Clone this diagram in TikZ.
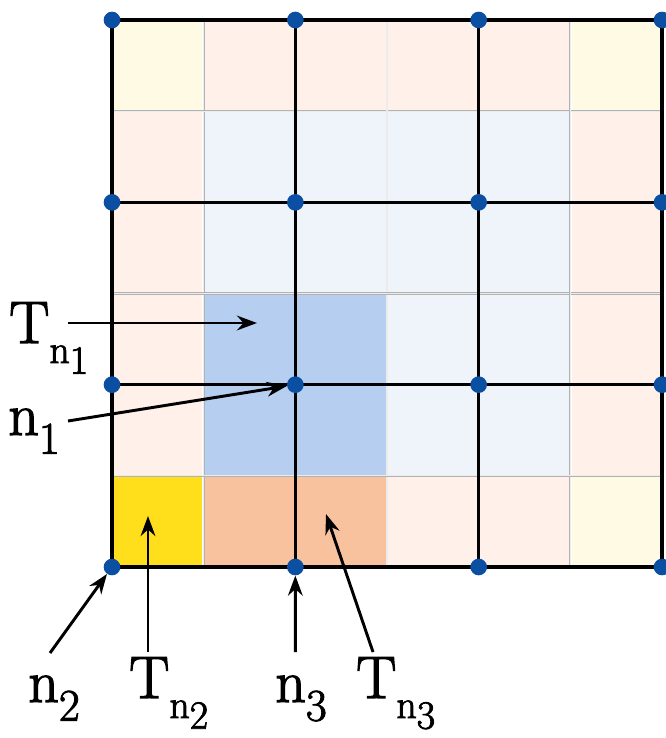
\documentclass[tikz,border=0pt]{standalone}
\usepackage{fontspec}
\newfontfamily\labfont{Latin Modern Roman}[FakeBold=2]
\usetikzlibrary{arrows.meta}
\definecolor{Yf}{HTML}{FFFAE4}
\definecolor{Pf}{HTML}{FFF1EA}
\definecolor{Bf}{HTML}{EFF4FB}
\definecolor{Bs}{HTML}{B6CFF1}
\definecolor{Ys}{HTML}{FFDF1C}
\definecolor{Ss}{HTML}{F9C29F}
\definecolor{dotblue}{HTML}{0A4FA2}
\newcommand{\tlab}[1]{T\raisebox{-15pt}{\fontsize{30}{30}\selectfont n\raisebox{-8pt}{#1}}}
\newcommand{\nlab}[1]{n\raisebox{-14pt}{\fontsize{34}{34}\selectfont #1}}
\begin{document}
\begin{tikzpicture}[x=0.75pt,y=-0.75pt,
  fine/.style={draw=gray!60,line width=0.35pt,double=white!85!gray,double distance=0.9pt},
  major/.style={draw=black,line width=2.5pt},
  dot/.style={circle,fill=dotblue,minimum size=12.5pt,inner sep=0pt},
  lab/.style={anchor=base west,inner sep=0pt,font=\labfont\fontsize{45}{50}\selectfont},
  arr/.style={line width=2.2pt,-{Stealth[length=15pt,width=11pt]}}]
\useasboundingbox (0,0) rectangle (666,738);
% cells
\foreach \row [count=\j from 0] in {{Yf,Pf,Pf,Pf,Pf,Yf},{Pf,Bf,Bf,Bf,Bf,Pf},{Pf,Bf,Bf,Bf,Bf,Pf},{Pf,Bs,Bs,Bf,Bf,Pf},{Pf,Bs,Bs,Bf,Bf,Pf},{Ys,Ss,Ss,Pf,Pf,Yf}}{
  \foreach \c [count=\i from 0] in \row {
    \fill[\c] ({112+\i*91.667+1.2},{20+\j*91.167+1.2}) rectangle ++(89.27,88.77);
  }
}
% fine lines
\foreach \i in {1,3,5}{
  \draw[fine] ({112+\i*91.667},20) -- ({112+\i*91.667},567);
  \draw[fine] (112,{20+\i*91.167}) -- (662,{20+\i*91.167});
}
% major lines
\foreach \i in {0,2,4,6}{
  \draw[major] ({112+\i*91.667},20) -- ({112+\i*91.667},567);
  \draw[major] (112,{20+\i*91.167}) -- (662,{20+\i*91.167});
}
% dots
\foreach \i in {0,2,4,6}{
  \foreach \j in {0,2,4,6}{
    \node[dot] (d\i\j) at ({112+\i*91.667},{20+\j*91.167}) {};
  }
}
% labels
\node[lab] (Tn1) at (9,343) {\tlab{1}};
\node[lab] (n1) at (8,435) {\nlab{1}};
\node[lab] (n2) at (28,702) {\nlab{2}};
\node[lab] (Tn2) at (129,698) {\tlab{2}};
\node[lab] (n3) at (275,702) {\nlab{3}};
\node[lab] (Tn3) at (356,698) {\tlab{3}};
% arrow ends
\coordinate (tn1s) at (68,323);
\coordinate (tn1e) at (257,323);
\coordinate (n1s) at (68,421);
\coordinate (n2s) at (50,653);
\coordinate (tn2s) at (148,652);
\coordinate (tn2e) at (148,516);
\coordinate (n3s) at (295.33,652);
\coordinate (tn3s) at (373,652);
\coordinate (tn3e) at (326,514);
\draw[arr] (tn1s) -- (tn1e);
\draw[arr] (n1s) -- (d24);
\draw[arr] (n2s) -- (d06);
\draw[arr] (tn2s) -- (tn2e);
\draw[arr] (n3s) -- (d26);
\draw[arr] (tn3s) -- (tn3e);
\end{tikzpicture}
\end{document}
